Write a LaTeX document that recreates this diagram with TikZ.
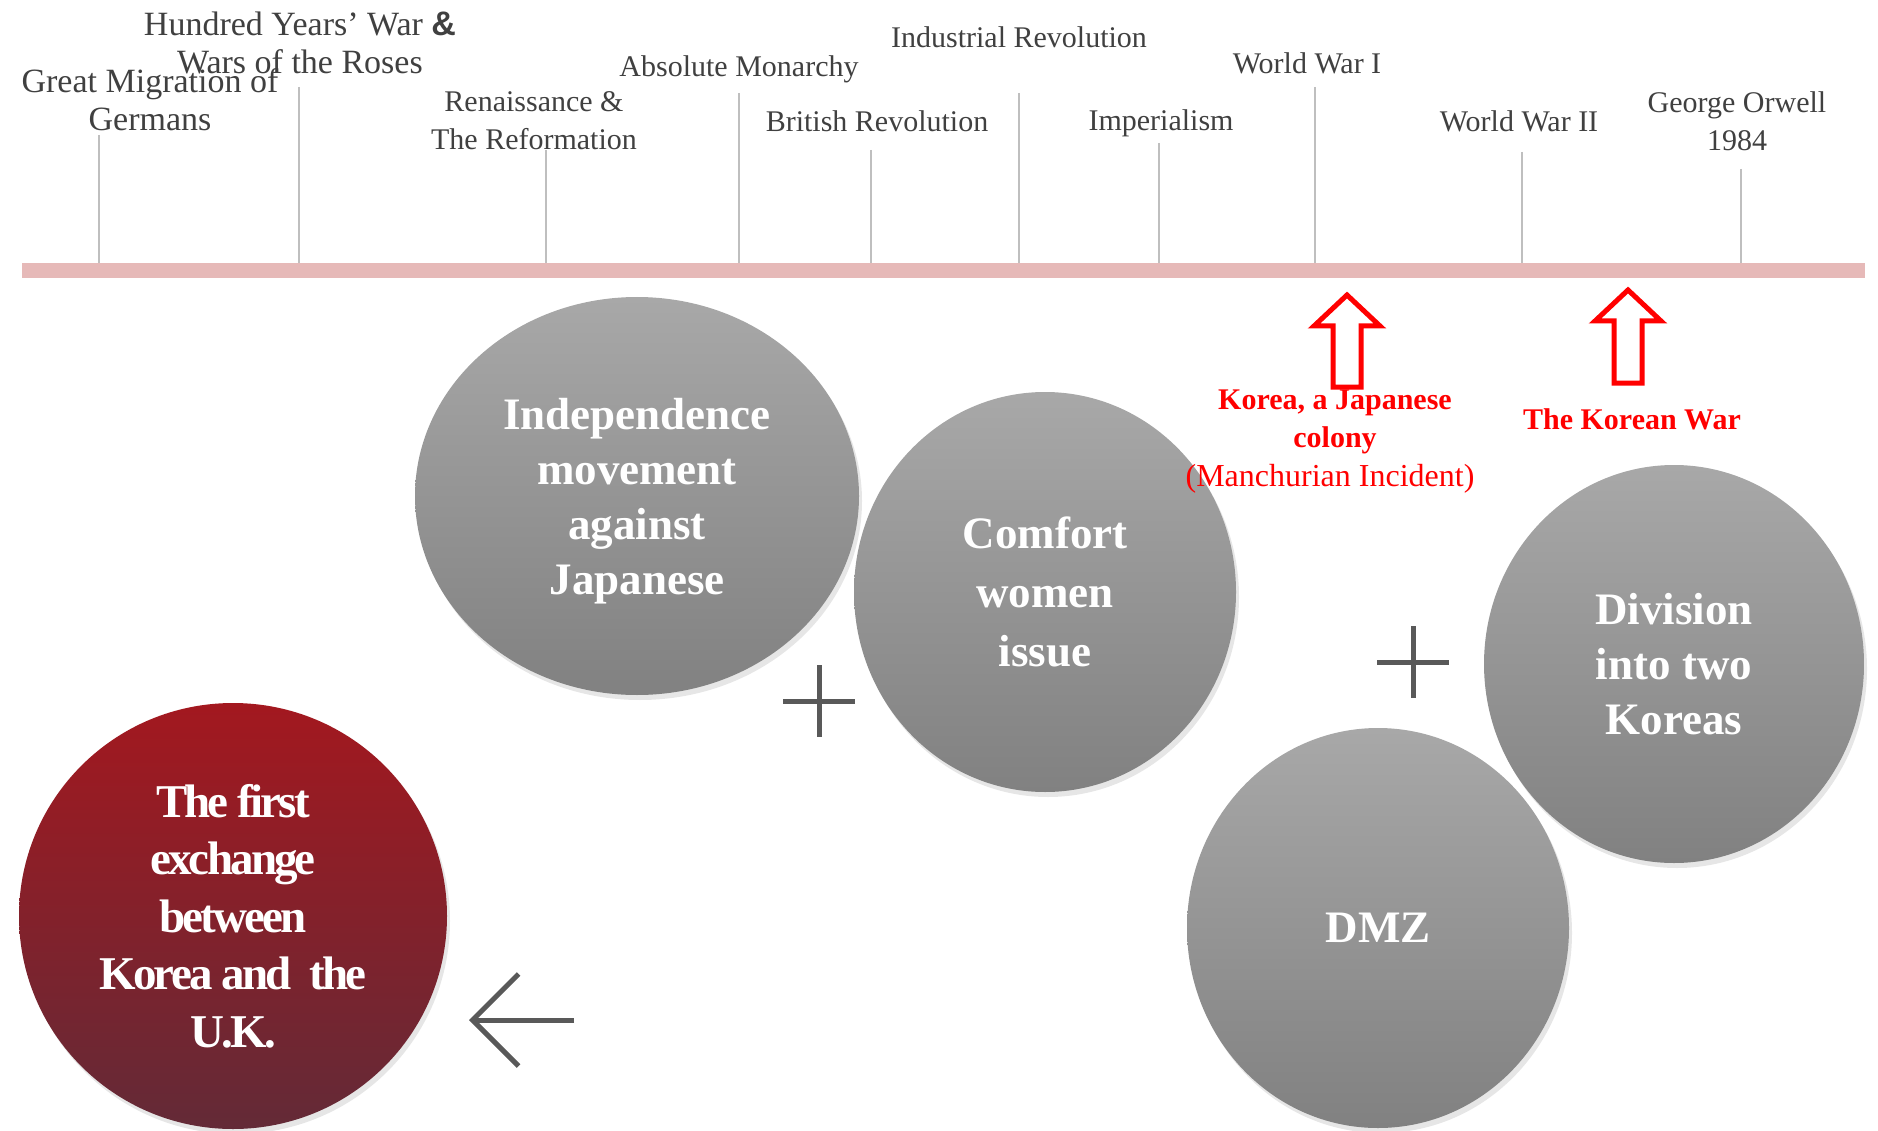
\documentclass[tikz,border=0pt]{standalone}
\usepackage{fontspec}
\setmainfont{Liberation Serif}
\setsansfont{Liberation Sans}
\usetikzlibrary{shapes.geometric,arrows.meta,shadows}

\definecolor{labelgrey}{HTML}{404040}
\definecolor{tickgrey}{HTML}{BFBFBF}
\definecolor{barpink}{HTML}{E6B9B8}
\definecolor{signgrey}{HTML}{595959}
\definecolor{bubtop}{HTML}{A8A8A8}
\definecolor{bubbot}{HTML}{818181}
\definecolor{redtop}{HTML}{A3181F}
\definecolor{redbot}{HTML}{632A37}

\tikzset{
  era/.style={text=labelgrey, font=\fontsize{30}{38}\selectfont, align=center, inner sep=0pt},
  bigera/.style={era, font=\fontsize{34}{38}\selectfont},
  eratick/.style={draw=tickgrey, line width=1.5pt},
  bubble/.style={ellipse, inner sep=0pt, text=white, align=center,
    font=\fontsize{45}{55}\selectfont\bfseries,
    top color=bubtop, bottom color=bubbot,
    drop shadow={opacity=0.2, shadow xshift=3pt, shadow yshift=-5pt}},
  rednote/.style={text=red, font=\fontsize{30}{38}\selectfont, align=center, inner sep=0pt},
  uparrow/.style={draw=red, line width=5pt, miter limit=20},
  plussign/.style={draw=signgrey, line width=5pt},
  backarrow/.style={draw=signgrey, line width=5pt, -{Straight Barb[length=46pt, width=92pt]}}
}

\begin{document}
\begin{tikzpicture}[x=1pt, y=-1pt]
  \useasboundingbox (0,0) rectangle (1878,1131);

  % timeline
  \node[minimum width=1843pt, minimum height=15pt, inner sep=0pt, fill=barpink] (bar) at (943.5,270.5) {};

  \node[bigera] (gm)  at (150,100)  {Great Migration of\\Germans};
  \node[bigera] (hyw) at (300,43)   {Hundred Years’ War {\sffamily\bfseries\&}\\Wars of the Roses};
  \node[era] (ren) at (534,121)  {Renaissance \&\\The Reformation};
  \node[era] (am)  at (739,69.5) {Absolute Monarchy};
  \node[era] (br)  at (877,121)  {British Revolution};
  \node[era] (ir)  at (1019,37)  {Industrial Revolution};
  \node[era] (imp) at (1161,123.5) {Imperialism};
  \node[era] (ww1) at (1307,63)  {World War I};
  \node[era] (ww2) at (1519,121) {World War II};
  \node[era] (orw) at (1737,121) {George Orwell\\1984};

  \foreach \x/\y [count=\i] in {99/135, 299/87, 546/150, 739/93, 871/150, 1019/93, 1159/143, 1315/87, 1522/152, 1741/169} {
    \coordinate (t\i) at (\x,\y);
    \draw[eratick] (t\i) -- (t\i |- bar.north);
  }

  % topics
  \node[bubble, minimum width=444pt, minimum height=398pt, text depth=0pt] (indep) at (637,496)
    {Independence\\movement\\against\\Japanese};
  \node[bubble, minimum width=382pt, minimum height=400pt, font=\fontsize{45}{59}\selectfont\bfseries] (comfort) at (1045,592)
    {Comfort\\women\\issue};
  \node[bubble, minimum width=382pt, minimum height=400pt] (dmz) at (1378,928) {DMZ};
  \node[bubble, minimum width=380pt, minimum height=398pt] (divide) at (1674,664)
    {Division\\into two\\Koreas};
  \node[bubble, minimum width=428pt, minimum height=426pt, top color=redtop, bottom color=redbot,
    font=\fontsize{47}{57.5}\selectfont\bfseries\addfontfeatures{LetterSpace=-6}] (first) at (233,916)
    {The first\\exchange\\between\\Korea and\ \ the\\U.K.};

  % events on the timeline
  \foreach \x/\t/\b in {1347/295/387, 1628/290/383} {
    \draw[uparrow] (\x-14,\b) -- (\x-14,\t+31) -- (\x-33,\t+31) -- (\x,\t)
      -- (\x+33,\t+31) -- (\x+14,\t+31) -- (\x+14,\b) -- cycle;
  }
  \node[rednote] (colony) at (1335,422) {\textbf{Korea, a Japanese}\\\textbf{colony}};
  \node[rednote, font=\fontsize{32}{38}\selectfont] (manch) at (1330,479) {(Manchurian Incident)};
  \node[rednote, font=\fontsize{30}{38}\selectfont\bfseries] (kwar) at (1632,419) {The Korean War};

  % signs
  \foreach \x/\y in {819/701, 1413/662} {
    \draw[plussign] (\x-36,\y) -- (\x+36,\y) (\x,\y-36) -- (\x,\y+36);
  }
  \coordinate (tailend) at (574,1020);
  \coordinate (tipend) at (469,1020);
  \draw[backarrow] (tailend) -- (tipend);

\end{tikzpicture}
\end{document}
